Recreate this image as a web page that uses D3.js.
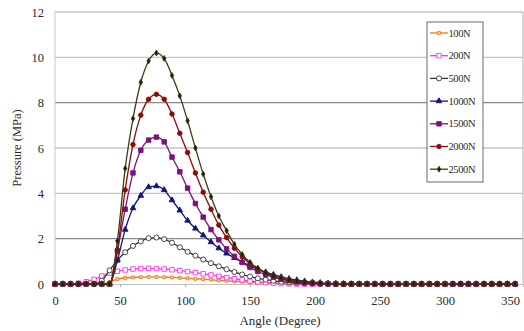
<!DOCTYPE html>
<html>
<head>
<meta charset="utf-8">
<script src="https://cdn.jsdelivr.net/npm/d3@7"></script>
<style>
  body { margin: 0; background: #fff; }
  svg text { font-family: "Liberation Serif", "DejaVu Serif", serif; fill: #2a2a2a; }
</style>
</head>
<body>
<svg id="chart" width="524" height="331"></svg>
<script>
'use strict';

// angles sampled every 6 degrees, 0..354
var angles = d3.range(0, 360, 6);

var loads = ['100N', '200N', '500N', '1000N', '1500N', '2000N', '2500N'];

// pressure (MPa) per angle; values past the listed ones are zero
var p100 = [0, 0, 0, 0, 0, 0, 0, 0.08, 0.22, 0.27, 0.29, 0.30, 0.31, 0.31, 0.30, 0.29, 0.27, 0.25,
  0.23, 0.21, 0.19, 0.16, 0.14, 0.12, 0.10, 0.08, 0.06, 0.04, 0.03, 0.02, 0.01];
var p200 = [0, 0, 0, 0.03, 0.10, 0.20, 0.35, 0.48, 0.56, 0.62, 0.66, 0.68, 0.69, 0.68, 0.66, 0.63, 0.59, 0.55,
  0.50, 0.45, 0.40, 0.34, 0.28, 0.23, 0.18, 0.13, 0.09, 0.06, 0.04, 0.02, 0.01];
var p500 = [0, 0, 0, 0, 0, 0, 0.15, 0.60, 1.05, 1.40, 1.68, 1.88, 2.02, 2.05, 1.98, 1.82, 1.62, 1.42,
  1.25, 1.08, 0.92, 0.78, 0.65, 0.53, 0.42, 0.33, 0.25, 0.19, 0.14, 0.10, 0.07, 0.05, 0.03, 0.02, 0.01];
var p1000 = [0, 0, 0, 0, 0, 0, 0, 0, 1.05, 2.40, 3.35, 3.90, 4.28, 4.32, 4.15, 3.70, 3.25, 2.80,
  2.45, 2.15, 1.85, 1.58, 1.35, 1.15, 0.97, 0.80, 0.65, 0.52, 0.41, 0.31, 0.23, 0.17, 0.12, 0.08, 0.05, 0.03, 0.02, 0.01];
var p1500 = [0, 0, 0, 0, 0, 0, 0, 0, 1.45, 3.30, 4.90, 5.90, 6.35, 6.48, 6.27, 5.60, 4.95, 4.23,
  3.55, 2.95, 2.40, 1.95, 1.55, 1.22, 0.95, 0.73, 0.55, 0.41, 0.30, 0.21, 0.15, 0.10, 0.06, 0.04, 0.02, 0.01];
var p2000 = [0, 0, 0, 0, 0, 0, 0, 0, 1.50, 4.15, 6.15, 7.45, 8.15, 8.37, 8.15, 7.50, 6.65, 5.80,
  4.90, 4.05, 3.30, 2.60, 2.05, 1.58, 1.20, 0.90, 0.66, 0.48, 0.34, 0.24, 0.16, 0.11, 0.07, 0.04, 0.02, 0.01];
var p2500 = [0, 0, 0, 0, 0, 0, 0, 0, 1.90, 5.10, 7.30, 8.90, 9.84, 10.19, 9.95, 9.20, 8.30, 7.20,
  6.00, 4.85, 3.85, 3.00, 2.35, 1.75, 1.30, 0.95, 0.70, 0.50, 0.36, 0.26, 0.18, 0.12, 0.08, 0.05, 0.03, 0.02, 0.01];

var xTicks = [0, 50, 100, 150, 200, 250, 300, 350];
var yTicks = [0, 2, 4, 6, 8, 10, 12];

var styles = [
  { color: '#f07818', symbol: d3.symbolSquare, size: 8, fill: '#ffe08a' },
  { color: '#ff2fe8', symbol: d3.symbolSquare, size: 20, fill: '#fff' },
  { color: '#333333', symbol: d3.symbolCircle, size: 20, fill: '#fff' },
  { color: '#14147a', symbol: d3.symbolTriangle, size: 14, fill: '#14147a' },
  { color: '#7a127a', symbol: d3.symbolSquare, size: 20, fill: '#7a127a' },
  { color: '#8b0a0a', symbol: d3.symbolCircle, size: 16, fill: '#8b0a0a' },
  { color: '#3c3c14', symbol: d3.symbolDiamond, size: 10, fill: '#1a1a0a' }
];

var raw = [p100, p200, p500, p1000, p1500, p2000, p2500];
var series = raw.map(function(vals, i) {
  return {
    name: loads[i],
    style: styles[i],
    points: angles.map(function(a, j) {
      return { x: a, y: j < vals.length ? vals[j] : 0 };
    })
  };
});

var svg = d3.select('#chart');

var x = d3.scaleLinear().domain([0, 360]).range([55, 523]);
var y = d3.scaleLinear().domain([0, 12]).range([284, 12]);

// gridlines (some come out darker in the original)
svg.append('g').selectAll('line')
  .data(yTicks.filter(function(d) { return d > 0; }))
  .enter().append('line')
  .attr('x1', x(0)).attr('x2', x(360))
  .attr('y1', function(d) { return y(d); })
  .attr('y2', function(d) { return y(d); })
  .attr('stroke', function(d) { return (d === 8 || d === 2) ? '#8a8a8a' : '#c4c4c4'; })
  .attr('stroke-width', 1.3);

// plot frame left and right
svg.append('line').attr('x1', x(0)).attr('x2', x(0)).attr('y1', y(12)).attr('y2', y(0))
  .attr('stroke', '#c8c8c8');
svg.append('line').attr('x1', x(360)).attr('x2', x(360)).attr('y1', y(12)).attr('y2', y(0))
  .attr('stroke', '#b0b0b0');

// x axis
var xAxis = svg.append('g')
  .attr('transform', 'translate(0,' + y(0) + ')')
  .call(d3.axisBottom(x).tickValues(xTicks).tickSize(3).tickPadding(9));
xAxis.select('.domain').attr('stroke', '#c0c0c0');
xAxis.selectAll('.tick line').attr('stroke', '#b0b0b0');
xAxis.selectAll('.tick text').attr('font-size', 12.5).attr('fill', '#2a2a2a')
  .style('font-family', '"Liberation Serif", serif');

// y axis labels
var yAxis = svg.append('g')
  .attr('transform', 'translate(' + x(0) + ',0)')
  .call(d3.axisLeft(y).tickValues(yTicks).tickSize(0).tickPadding(11));
yAxis.select('.domain').remove();
yAxis.selectAll('.tick text').attr('font-size', 12.5).attr('fill', '#2a2a2a')
  .style('font-family', '"Liberation Serif", serif');

// titles
svg.append('text')
  .attr('x', 280).attr('y', 325)
  .attr('text-anchor', 'middle')
  .attr('font-size', 13)
  .text('Angle (Degree)');
svg.append('text')
  .attr('transform', 'translate(21,148) rotate(-90)')
  .attr('text-anchor', 'middle')
  .attr('font-size', 12.5)
  .text('Pressure (MPa)');

// series
var line = d3.line()
  .x(function(d) { return x(d.x); })
  .y(function(d) { return y(d.y); })
  .curve(d3.curveMonotoneX);

var plot = svg.append('g');
series.forEach(function(s) {
  var g = plot.append('g');
  g.append('path')
    .datum(s.points)
    .attr('fill', 'none')
    .attr('stroke', s.style.color)
    .attr('stroke-width', 1.3)
    .attr('d', line);
  g.selectAll('path.pt')
    .data(s.points)
    .enter().append('path')
    .attr('class', 'pt')
    .attr('transform', function(d) { return 'translate(' + x(d.x) + ',' + y(d.y) + ')'; })
    .attr('d', d3.symbol().type(s.style.symbol).size(s.style.size))
    .attr('fill', s.style.fill)
    .attr('stroke', s.style.color)
    .attr('stroke-width', 0.9);
});

// legend
var legend = svg.append('g').attr('transform', 'translate(427,22)');
legend.append('rect')
  .attr('width', 56).attr('height', 160)
  .attr('fill', '#fff')
  .attr('stroke', '#6a6a6a');
var item = legend.selectAll('g.item')
  .data(series)
  .enter().append('g')
  .attr('class', 'item')
  .attr('transform', function(d, i) { return 'translate(0,' + (11 + i * 22.7) + ')'; });
item.append('line')
  .attr('x1', 3).attr('x2', 21)
  .attr('stroke', function(d) { return d.style.color; })
  .attr('stroke-width', 1.3);
item.append('path')
  .attr('transform', 'translate(12,0)')
  .attr('d', function(d) { return d3.symbol().type(d.style.symbol).size(d.style.size)(); })
  .attr('fill', function(d) { return d.style.fill; })
  .attr('stroke', function(d) { return d.style.color; })
  .attr('stroke-width', 0.9);
item.append('text')
  .attr('x', 21.5).attr('y', 3.5)
  .attr('font-size', 10.5)
  .attr('letter-spacing', -0.4)
  .text(function(d) { return d.name; });
</script>
</body>
</html>
